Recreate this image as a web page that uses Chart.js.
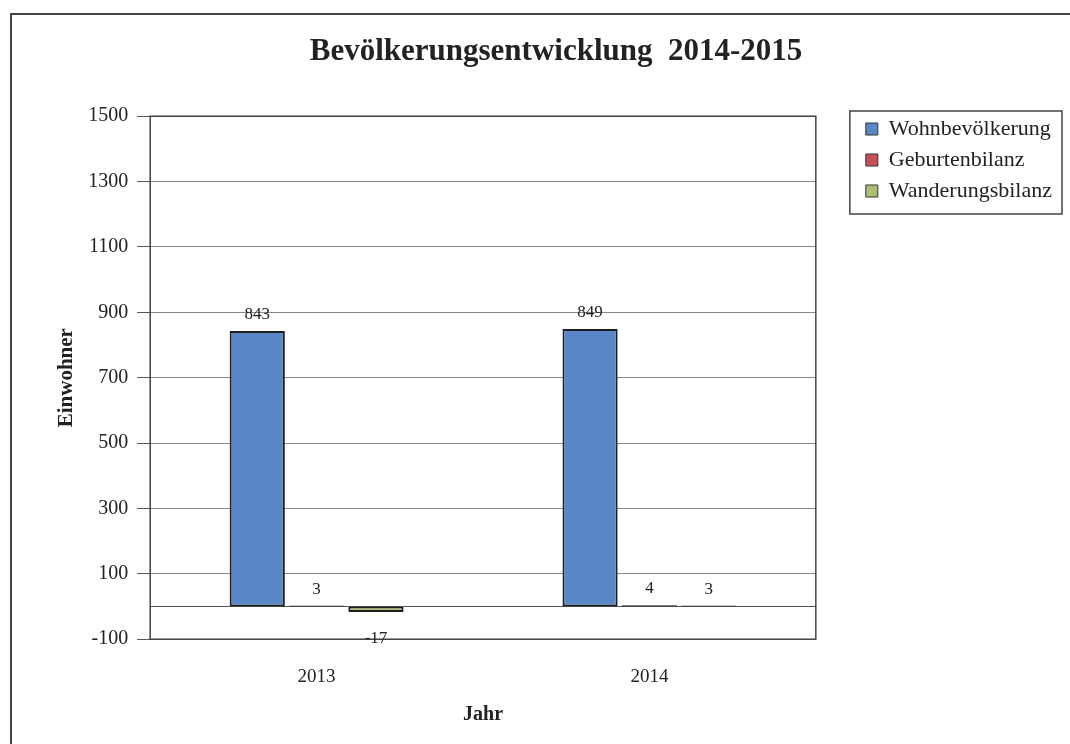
<!DOCTYPE html>
<html>
<head>
<meta charset="utf-8">
<script src="https://cdn.jsdelivr.net/npm/chart.js@4.4.1/dist/chart.umd.min.js"></script>
<style>
  html, body { margin: 0; padding: 0; background: #fff; overflow: hidden; }
  #wrap { position: relative; width: 1070px; height: 744px; }
  #frame { position: absolute; left: 10px; top: 13px; width: 1080px; height: 800px;
           border: 2px solid #444; box-sizing: border-box; pointer-events: none; }
  canvas { position: absolute; left: 0; top: 0; }
</style>
</head>
<body>
<div id="wrap">
  <canvas id="chart" width="1070" height="744"></canvas>
  <div id="frame"></div>
</div>
<script>
const years = ['2013', '2014'];
const seriesNames = ['Wohnbevölkerung', 'Geburtenbilanz', 'Wanderungsbilanz'];
const wohnbevoelkerung = [843, 849];
const geburtenbilanz = [3, 4];
const wanderungsbilanz = [-17, 3];
const colors = ['#5A87C8', '#C9505A', '#A9BF72'];

const serif = '"Liberation Serif", "Times New Roman", serif';

// plot frame + zero line
const framePlugin = {
    id: 'frame',
    beforeDatasetsDraw(chart) {
        const { ctx, chartArea: a, scales } = chart;
        const y0 = scales.y.getPixelForValue(0);
        ctx.save();
        ctx.strokeStyle = '#555';
        ctx.lineWidth = 1;
        ctx.beginPath();
        ctx.moveTo(a.left, y0);
        ctx.lineTo(a.right, y0);
        ctx.stroke();
        ctx.lineWidth = 1.5;
        ctx.strokeStyle = '#444';
        ctx.strokeRect(a.left, a.top, a.right - a.left, a.bottom - a.top);
        ctx.restore();
    }
};

// value labels on the bars
const labelPlugin = {
    id: 'labels',
    afterDatasetsDraw(chart) {
        const ctx = chart.ctx;
        ctx.save();
        ctx.font = '17px ' + serif;
        ctx.fillStyle = '#222';
        ctx.textAlign = 'center';
        chart.data.datasets.forEach((ds, i) => {
            chart.getDatasetMeta(i).data.forEach((bar, j) => {
                const v = ds.data[j];
                if (v >= 0) {
                    ctx.textBaseline = 'bottom';
                    ctx.fillText(v, bar.x, bar.y - 8);
                } else {
                    ctx.textBaseline = 'top';
                    ctx.fillText(v, bar.x, bar.y + 18);
                }
            });
        });
        ctx.restore();
    }
};

// border round the legend
const legendBox = {
    id: 'legendBox',
    afterDraw(chart) {
        const boxes = chart.legend.legendHitBoxes;
        if (!boxes || !boxes.length) return;
        const ctx = chart.ctx;
        let l = Infinity, t = Infinity, r = -Infinity, b = -Infinity;
        boxes.forEach(h => {
            l = Math.min(l, h.left); t = Math.min(t, h.top);
            r = Math.max(r, h.left + h.width); b = Math.max(b, h.top + h.height);
        });
        ctx.save();
        ctx.strokeStyle = '#444';
        ctx.lineWidth = 1.5;
        ctx.strokeRect(l - 16, t - 7, r - l + 26, b - t + 19);
        ctx.restore();
    }
};

new Chart(document.getElementById('chart'), {
    type: 'bar',
    data: {
        labels: years,
        datasets: [
            { label: seriesNames[0], data: wohnbevoelkerung },
            { label: seriesNames[1], data: geburtenbilanz },
            { label: seriesNames[2], data: wanderungsbilanz }
        ].map((d, i) => Object.assign(d, {
            backgroundColor: colors[i],
            borderColor: '#1e1e1e',
            borderWidth: 2,
            borderSkipped: false,
            categoryPercentage: 0.535,
            barPercentage: 0.93
        }))
    },
    options: {
        responsive: false,
        animation: false,
        layout: { padding: { top: 24, left: 50, right: 8, bottom: 13 } },
        plugins: {
            title: {
                display: true,
                text: 'Bevölkerungsentwicklung  2014-2015',
                color: '#222',
                font: { family: serif, size: 31, weight: 'bold' },
                padding: { top: 9, bottom: 46 }
            },
            legend: {
                position: 'right',
                align: 'start',
                maxWidth: 300,
                title: { display: true, text: ' ', font: { size: 10 }, padding: { top: 73, bottom: 0 } },
                labels: {
                    color: '#222',
                    font: { family: serif, size: 22 },
                    boxWidth: 12,
                    boxHeight: 12,
                    padding: 9,
                    generateLabels(chart) {
                        return chart.data.datasets.map((ds, i) => ({
                            text: ds.label,
                            fillStyle: ds.backgroundColor,
                            strokeStyle: '#333',
                            fontColor: '#222',
                            lineWidth: 1,
                            datasetIndex: i
                        }));
                    }
                }
            },
            tooltip: { enabled: false }
        },
        scales: {
            x: {
                grid: { display: false, drawTicks: false },
                border: { display: false },
                ticks: { color: '#222', font: { family: serif, size: 19 }, padding: 26 },
                title: {
                    display: true, text: 'Jahr', color: '#222',
                    font: { family: serif, size: 20, weight: 'bold' },
                    padding: { top: -11, bottom: 4 }
                }
            },
            y: {
                min: -100,
                max: 1500,
                ticks: {
                    stepSize: 200, color: '#222', font: { family: serif, size: 20 }, padding: 9,
                    callback: v => String(v)
                },
                grid: { color: '#888', lineWidth: 1, tickLength: 13, tickColor: '#555' },
                border: { display: false },
                title: {
                    display: true, text: 'Einwohner', color: '#222',
                    font: { family: serif, size: 21, weight: 'bold' },
                    padding: { bottom: 0 }
                }
            },
            // empty axis: keeps a gap between plot and legend
            gap: {
                position: 'right',
                display: true,
                grid: { display: false },
                border: { display: false },
                ticks: { display: false },
                afterFit: s => { s.width = 41; }
            }
        }
    },
    plugins: [framePlugin, labelPlugin, legendBox]
});
</script>
</body>
</html>
